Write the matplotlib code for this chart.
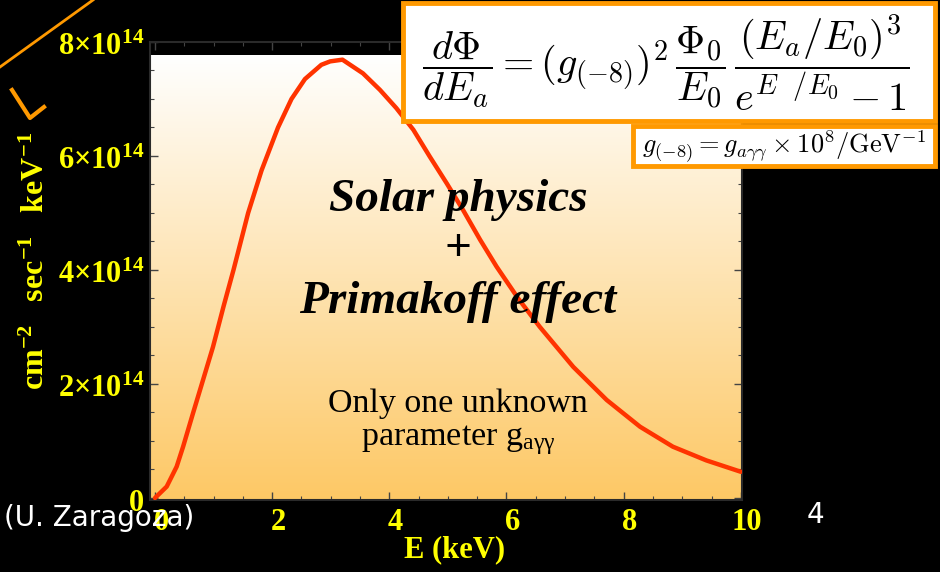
import numpy as np
import matplotlib.pyplot as plt
import matplotlib.transforms as mtransforms
from matplotlib.colors import LinearSegmentedColormap
from matplotlib.patches import Rectangle
from matplotlib.lines import Line2D
from matplotlib.ticker import MultipleLocator

plt.rcParams['mathtext.fontset'] = 'custom'
plt.rcParams['mathtext.rm'] = 'Liberation Serif'
plt.rcParams['mathtext.bf'] = 'Liberation Serif:bold'
plt.rcParams['mathtext.it'] = 'Liberation Serif:italic'

# espectro (E en keV, flujo en unidades de 1e14)
energia = [0.0, 0.2, 0.37, 0.48, 0.65, 0.82, 0.99, 1.17, 1.34, 1.59, 1.82, 2.1,
           2.33, 2.56, 2.84, 2.99, 3.2, 3.55, 3.84, 4.12, 4.41, 4.69, 4.98, 5.26,
           5.55, 5.83, 6.2, 6.57, 7.14, 7.71, 8.28, 8.84, 9.41, 10.0]
flujo = [0.0, 0.2, 0.55, 0.9, 1.49, 2.07, 2.65, 3.36, 4.0, 5.0, 5.75, 6.5,
         7.0, 7.35, 7.6, 7.66, 7.69, 7.45, 7.16, 6.84, 6.46, 5.99, 5.52, 5.05,
         4.53, 4.06, 3.5, 3.0, 2.30, 1.72, 1.25, 0.90, 0.66, 0.46]

xticks = [0, 2, 4, 6, 8, 10]
yticks = [0, 2, 4, 6, 8]
ytick_labels = ['0', r'2×10$^{\mathbf{14}}$', r'4×10$^{\mathbf{14}}$',
                r'6×10$^{\mathbf{14}}$', r'8×10$^{\mathbf{14}}$']

AMARILLO = '#FFFF00'
NARANJA = '#FF9900'
W, H = 940, 572

fig = plt.figure(figsize=(9.4, 5.72), dpi=100, facecolor='black')

def px(x0, y0, x1, y1):
    # rectangulo en pixeles -> fraccion de figura
    return [x0 / W, 1 - y1 / H, (x1 - x0) / W, (y1 - y0) / H]

ax = fig.add_axes(px(150, 42, 742, 499.7))
ax.set_facecolor('black')
xmin, xmax = -0.085, 10.02
ymin, ymax = -0.03e14, 8e14
ax.set_xlim(xmin, xmax)
ax.set_ylim(ymin, ymax)

# fondo degradado blanco -> naranja
cmap = LinearSegmentedColormap.from_list('fondo', ['#FDC865', '#FFFFFF'])
grad = np.linspace(0, 1, 256).reshape(-1, 1)
ax.imshow(grad, cmap=cmap, origin='lower', aspect='auto',
          extent=[xmin, xmax, ymin, 7.77e14], zorder=0)

ax.plot(energia, np.array(flujo) * 1e14, color='#FF3300', lw=3.2, zorder=3,
        solid_capstyle='round', solid_joinstyle='round')

for s in ax.spines.values():
    s.set_color('#2a2a2a')
    s.set_linewidth(1.5)

ax.set_xticks(xticks)
ax.set_yticks(np.array(yticks) * 1e14)
ax.xaxis.set_minor_locator(MultipleLocator(0.5))
ax.yaxis.set_minor_locator(MultipleLocator(0.5e14))
ax.tick_params(which='both', direction='in', color='#444444', top=True, right=True,
               labelcolor=AMARILLO)
ax.tick_params(which='major', length=6, width=1, pad=4)
ax.tick_params(which='minor', length=3, width=0.8)

fuente = dict(family='Liberation Serif', weight='bold', size=22)
ax.set_xticklabels([str(t) for t in xticks], fontdict=fuente)
ax.set_yticklabels(ytick_labels, fontdict=fuente)
desp = mtransforms.ScaledTranslation(6 / 100, -3 / 100, fig.dpi_scale_trans)
for lab in ax.get_xticklabels():
    lab.set_transform(lab.get_transform() + desp)
desp_y = mtransforms.ScaledTranslation(0, -2 / 100, fig.dpi_scale_trans)
for lab in ax.get_yticklabels():
    lab.set_transform(lab.get_transform() + desp_y)

fig.text(455 / W, 1 - 550 / H, 'E (keV)', color=AMARILLO, ha='center', va='center',
         family='Liberation Serif', weight='bold', size=22)
fig.text(36 / W, 1 - 261 / H, r'$\mathbf{cm^{-2}\ \ \ sec^{-1}\ \ \ keV^{-1}}$',
         color=AMARILLO, ha='center', va='center', rotation=90, size=23)

# textos dentro del grafico
serif = 'Liberation Serif'
def ytxt(yp):
    return 1 - (yp - 42) / 457.7

ax.text(0.52, ytxt(200), 'Solar physics', transform=ax.transAxes,
        ha='center', va='center', family=serif, style='italic', weight='bold', size=34)
ax.text(0.52, ytxt(250), '+', transform=ax.transAxes,
        ha='center', va='center', family=serif, weight='bold', size=34)
ax.text(0.52, ytxt(302), 'Primakoff effect', transform=ax.transAxes,
        ha='center', va='center', family=serif, style='italic', weight='bold', size=34)
ax.text(0.52, ytxt(404), 'Only one unknown', transform=ax.transAxes,
        ha='center', va='center', family=serif, size=24.5)
ax.text(0.52, ytxt(440), r'parameter g$_{\mathrm{a\gamma\gamma}}$',
        transform=ax.transAxes, ha='center', va='center', family=serif, size=24.5)

# cuadros con la formula
x0, y0, x1, y1 = 403, 3, 935, 121
fig.patches.append(Rectangle((x0 / W, 1 - y1 / H), (x1 - x0) / W, (y1 - y0) / H,
                             transform=fig.transFigure, facecolor='white',
                             edgecolor=NARANJA, lw=3.5, zorder=5))
fig.text(666 / W, 1 - 63 / H,
         r'$\dfrac{d\Phi}{dE_a} = (g_{(-8)})^2\,\dfrac{\Phi_0}{E_0}\,'
         r'\dfrac{(E_a/E_0)^3}{e^{E\ \ /E_0}-1}$',
         ha='center', va='center', size=29, math_fontfamily='cm', zorder=6)

x0, y0, x1, y1 = 633, 126, 935, 166
fig.patches.append(Rectangle((x0 / W, 1 - y1 / H), (x1 - x0) / W, (y1 - y0) / H,
                             transform=fig.transFigure, facecolor='white',
                             edgecolor=NARANJA, lw=3.5, zorder=5))
fig.text(784 / W, 1 - 146 / H,
         r'$g_{(-8)} = g_{a\gamma\gamma}\times10^8/\mathrm{GeV}^{-1}$',
         ha='center', va='center', size=19, math_fontfamily='cm', zorder=6)

# adornos naranjas
fig.add_artist(Line2D([0, 93 / W], [1 - 67 / H, 1], color=NARANJA, lw=2))
fig.add_artist(Line2D([12 / W, 30 / W, 44 / W], [1 - 90 / H, 1 - 118 / H, 1 - 107 / H],
                      color=NARANJA, lw=3))

fig.text(4 / W, 1 - 518 / H, '(U. Zaragoza)', color='white', ha='left', va='center',
         family='DejaVu Sans', size=20)
fig.text(815 / W, 1 - 515 / H, '4', color='white', ha='center', va='center',
         family='DejaVu Sans', size=20)

fig.savefig('out.png', dpi=100, facecolor='black')
